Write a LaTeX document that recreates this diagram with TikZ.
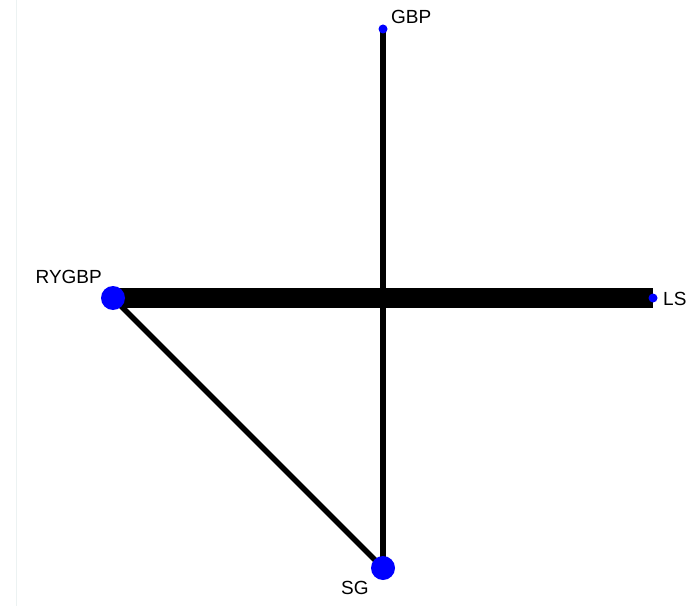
\documentclass[tikz,border=0pt]{standalone}
\usepackage{fontspec}
\setmainfont{Liberation Sans}
\usepackage{tikz}
\usetikzlibrary{positioning,backgrounds}
\definecolor{nodeblue}{RGB}{0,0,255}
\definecolor{framegray}{RGB}{236,242,242}

\begin{document}
\begin{tikzpicture}[x=1pt,y=1pt,
    bigdot/.style={circle,fill=nodeblue,inner sep=0pt,minimum size=24pt},
    smalldot/.style={circle,fill=nodeblue,inner sep=0pt,minimum size=9pt},
    lbl/.style={font=\fontsize{19}{21}\selectfont,inner sep=0pt}]
    \useasboundingbox (0,0) rectangle (693,606);
    \draw[framegray] (16,0) -- (16,606);

    % treatments
    \node[smalldot] (gbp) at (383,577) {};
    \node[smalldot] (ls) at (653,308) {};
    \node[bigdot] (rygbp) at (113,308) {};
    \node[bigdot] (sg) at (383,38) {};

    % labels
    \node[lbl,anchor=base west] (gbplbl) at (391,582) {GBP};
    \node[lbl,anchor=base west] (lslbl) at (663,301) {LS};
    \node[lbl,anchor=base east] (rygbplbl) at (102,323) {RYGBP};
    \node[lbl,anchor=base west] (sglbl) at (341,12) {SG};

    % comparisons, width ~ number of studies
    \begin{scope}[on background layer]
      \draw[line width=20pt] (rygbp.center) -- (ls.center);
      \draw[line width=5.5pt] (gbp.center) -- (sg.center);
      \draw[line width=5.5pt] (rygbp.center) -- (sg.center);
    \end{scope}
\end{tikzpicture}
\end{document}
